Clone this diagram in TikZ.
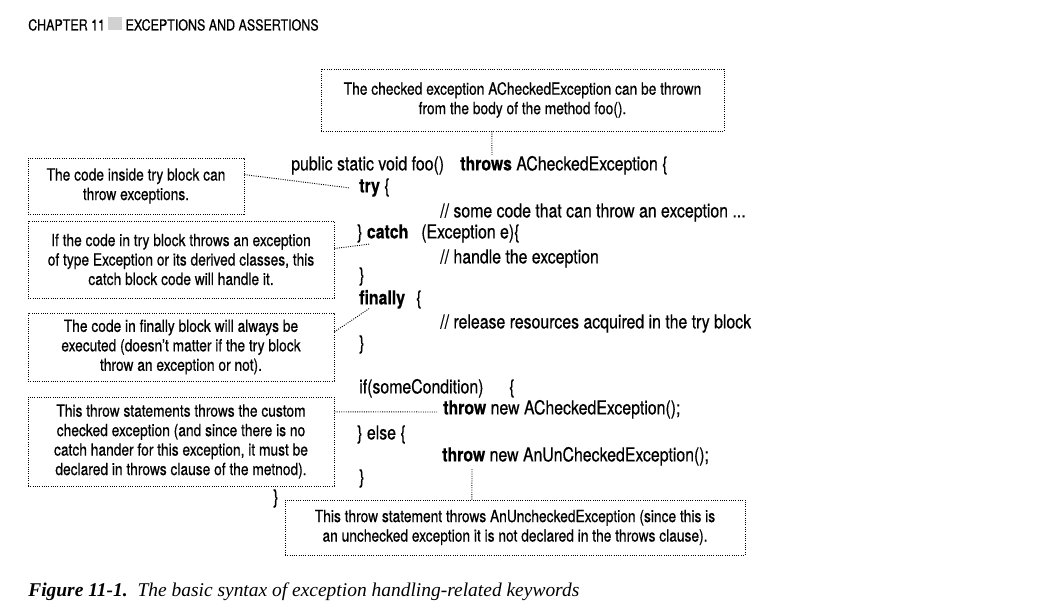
\documentclass[tikz,border=0pt]{standalone}
\usepackage{fontspec}
\setmainfont[FakeStretch=0.82,FakeBold=0.5]{TeX Gyre Heros}
\newfontfamily\capfont{Liberation Serif}
\usetikzlibrary{calc}
\begin{document}
\begin{tikzpicture}[x=0.75pt,y=-0.75pt,
  code/.style={anchor=mid west, inner sep=0pt, yshift=-2.2pt, font=\fontsize{14.5}{17}\selectfont},
  note/.style={draw, densely dotted, line width=0.7pt, align=center, inner sep=0pt,
     font=\fontsize{12.6}{14.6}\selectfont},
  link/.style={densely dotted, line width=0.7pt},
  hdr/.style={anchor=mid west, inner sep=0pt, font=\fontsize{11.4}{13}\selectfont}]
\useasboundingbox (0,0) rectangle (1037,605);
% header
\node[hdr] (hdr) at (28,27) {CHAPTER 11 \textcolor[gray]{0.82}{\rule{0.9em}{0.9em}} EXCEPTIONS AND ASSERTIONS};
% code
\node[code] (sig) at (291,164) {public static void foo()};
\node[code] (throws) at (460,164) {\textbf{throws} ACheckedException \{};
\node[code] (try) at (359,186) {\textbf{try} \{};
\node[code] (c1) at (440,211) {// some code that can throw an exception ...};
\node[code] (catch) at (357,232) {\} \textbf{catch}};
\node[code] (exc) at (421,232) {(Exception e)\{};
\node[code] (c2) at (440,257) {// handle the exception};
\node[code] (cl1) at (359,275) {\}};
\node[code] (finally) at (359,298) {\textbf{finally}};
\node[code] (fb) at (416,298) {\{};
\node[code] (c3) at (440,322) {// release resources acquired in the try block};
\node[code] (cl2) at (359,343) {\}};
\node[code] (if) at (359,387) {if(someCondition)};
\node[code] (ifb) at (509,387) {\{};
\node[code] (thr1) at (443,408) {\textbf{throw} new ACheckedException();};
\node[code] (else) at (357,433) {\} else \{};
\node[code] (thr2) at (442,455) {\textbf{throw} new AnUnCheckedException();};
\node[code] (cl3) at (359,477) {\}};
\node[code] (cl4) at (273,497) {\}};
% notes
\node[note, minimum width=403*0.75pt, minimum height=62*0.75pt] (ntop) at (522.5,100)
  {The checked exception ACheckedException can be thrown\\from the body of the method foo().};
\node[note, minimum width=216*0.75pt, minimum height=56*0.75pt] (n1) at (136,186)
  {The code inside try block can\\throw exceptions.};
\node[note, minimum width=306*0.75pt, minimum height=77*0.75pt] (n2) at (181,259.5)
  {If the code in try block throws an exception\\of type Exception or its derived classes, this\\catch block code will handle it.};
\node[note, minimum width=306*0.75pt, minimum height=68*0.75pt] (n3) at (181,347)
  {The code in finally block will always be\\executed (doesn't matter if the try block\\throw an exception or not).};
\node[note, minimum width=306*0.75pt, minimum height=89*0.75pt] (n4) at (181,441.5)
  {This throw statements throws the custom\\checked exception (and since there is no\\catch hander for this exception, it must be\\declared in throws clause of the metnod).};
\node[note, minimum width=460*0.75pt, minimum height=55*0.75pt] (n5) at (515,527.5)
  {This throw statement throws AnUncheckedException (since this is\\an unchecked exception it is not declared in the throws clause).};
% connector end points
\coordinate (e0) at (492,155);
\coordinate (e1) at (350,188);
\coordinate (e2) at (370,244);
\coordinate (e3) at (370,308);
\coordinate (e4) at (437,412);
\coordinate (e5) at (472,468);
\draw[link] ($(ntop.south west)!0.424!(ntop.south east)$) -- (e0);
\draw[link] ($(n1.north east)!0.30!(n1.south east)$) -- (e1);
\draw[link] ($(n2.north east)!0.36!(n2.south east)$) -- (e2);
\draw[link] ($(n3.north east)!0.28!(n3.south east)$) -- (e3);
\draw[link] ($(n4.north east)!0.17!(n4.south east)$) -- (e4);
\draw[link] ($(n5.north west)!0.4065!(n5.north east)$) -- (e5);
% caption
\node[anchor=mid west, inner sep=0pt, font=\capfont\fontsize{14.6}{17}\selectfont] (cap) at (28,593)
  {\textbf{\textit{Figure 11-1.}}\hspace{0.5em}\textit{The basic syntax of exception handling-related keywords}};
\end{tikzpicture}
\end{document}
